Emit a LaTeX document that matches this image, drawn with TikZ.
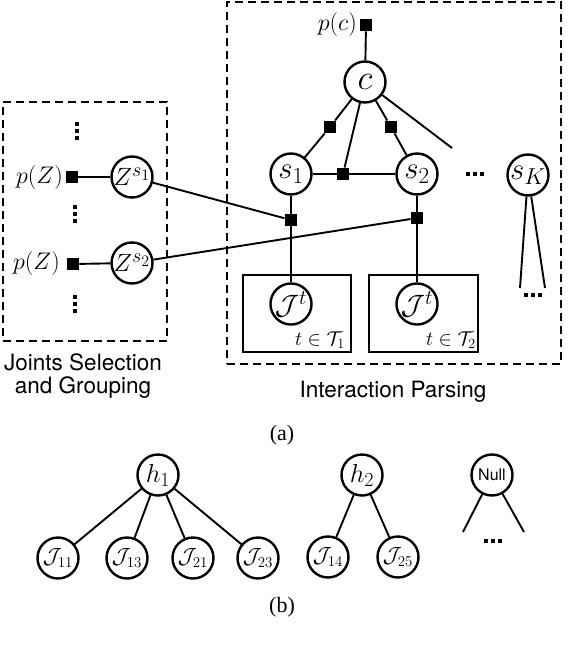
\RequirePackage{fix-cm}
\documentclass[tikz,border=0pt]{standalone}
\usepackage{fontspec}
\newfontfamily\helv{TeX Gyre Heros}
\newfontfamily\tms{Liberation Serif}
\newcommand\fsz[1]{\fontsize{#1}{#1}\selectfont}
\DeclareMathSizes{31}{31}{23}{18}
\DeclareMathSizes{25}{25}{20}{16}
\DeclareMathSizes{26}{26}{20}{15}
\DeclareMathSizes{28}{28}{21}{16}
\DeclareMathSizes{22}{22}{15}{12}
\tikzset{
  var/.style={circle, draw, line width=2.4pt, minimum size=41pt, inner sep=0pt},
  fac/.style={rectangle, fill=black, minimum size=12.5pt, inner sep=0pt},
  edge/.style={line width=1.9pt},
  dashbox/.style={draw, line width=2pt, dash pattern=on 8pt off 5pt, inner sep=0pt},
  plate/.style={draw, line width=2pt, inner sep=0pt},
  lbl/.style={inner sep=0pt, font=\helv\fontsize{22.5}{23}\selectfont, align=center},
  mlbl/.style={inner sep=0pt, font=\fsz{24}},
  pics/vdts/.style={code={
    \fill (-2.3,-9.3) rectangle (2.3,-4.7);
    \fill (-2.3,-2.3) rectangle (2.3,2.3);
    \fill (-2.3,4.7) rectangle (2.3,9.3);}},
  pics/hdts/.style={code={
    \fill (-9.3,-2.3) rectangle (-4.7,2.3);
    \fill (-2.3,-2.3) rectangle (2.3,2.3);
    \fill (4.7,-2.3) rectangle (9.3,2.3);}}
}
\begin{document}
\begin{tikzpicture}[x=1pt,y=-1pt]
\useasboundingbox (0,0) rectangle (588,656);

% frames
\node[dashbox, minimum width=164pt, minimum height=239pt] (L) at (85,221.5) {};
\node[dashbox, minimum width=334pt, minimum height=362pt] (R) at (394,183) {};
\node[plate, minimum width=108pt, minimum height=77pt] (P1) at (297,313.5) {};
\node[plate, minimum width=109pt, minimum height=77pt] (P2) at (423.5,313.5) {};

% interaction parsing
\node[fac] (fc) at (366,25) {};
\node[mlbl, anchor=east] (pc) at (357,24) {$p(c)$};
\node[var, font=\fsz{35}] (c) at (365,82) {$c$};
\node[fac] (f1) at (330,127) {};
\node[fac] (f2) at (391,127) {};
\node[var, font=\fsz{31}] (s1) at (291,174) {$s_1$};
\node[var, font=\fsz{31}] (s2) at (417,174) {$s_2$};
\node[fac] (f3) at (343,174) {};
\node[var, font=\fsz{31}] (sK) at (528,175) {$s_K$};
\pic at (475,174) {hdts};
\coordinate (cR) at (452,148);
\node[fac] (f4) at (291,220) {};
\node[fac] (f5) at (417,218) {};
\node[var, font=\fsz{28}] (J1) at (291,304) {$\mathcal{J}^t$};
\node[var, font=\fsz{28}] (J2) at (417,304) {$\mathcal{J}^t$};
\node[anchor=base east, inner sep=0pt, font=\fsz{20}] (t1) at (345,345) {$t\in\mathcal{T}_1$};
\node[anchor=base east, inner sep=0pt, font=\fsz{20}] (t2) at (476,345) {$t\in\mathcal{T}_2$};
\coordinate (k1) at (520,288);
\coordinate (k2) at (545,288);
\pic at (533,295) {hdts};

% joints selection
\pic at (77,131) {vdts};
\pic at (75,214) {vdts};
\pic at (75,304) {vdts};
\node[fac] (fz1) at (72,177) {};
\node[fac] (fz2) at (73,264) {};
\node[var, font=\fsz{25}] (Z1) at (132,177) {$Z^{s_1}$};
\node[var, font=\fsz{25}] (Z2) at (132,263) {$Z^{s_2}$};
\node[mlbl, anchor=east] (pz1) at (63,177) {$p(Z)$};
\node[mlbl, anchor=east] (pz2) at (60,263) {$p(Z)$};

% labels
\node[lbl] (jl) at (83,376.5) {Joints Selection\\and Grouping};
\node[lbl] (ip) at (393,392) {Interaction Parsing};
\node[inner sep=0pt, font=\tms\fsz{22}] (ca) at (282,435) {(a)};
\node[inner sep=0pt, font=\tms\fsz{22}] (cb) at (282,607) {(b)};

% edges (a)
\draw[edge] (fc) -- (c);
\draw[edge] (c) -- (f1) -- (s1);
\draw[edge] (c) -- (f2) -- (s2);
\draw[edge] (c) -- (f3);
\draw[edge] (s1) -- (f3) -- (s2);
\draw[edge] (c) -- (cR);
\draw[edge] (s1) -- (f4) -- (J1);
\draw[edge] (s2) -- (f5) -- (J2);
\draw[edge] (Z1) -- (f4);
\draw[edge] (Z2) -- (f5);
\draw[edge] (fz1) -- (Z1);
\draw[edge] (fz2) -- (Z2);
\draw[edge] (sK) -- (k1);
\draw[edge] (sK) -- (k2);

% (b)
\node[var, font=\fsz{26}] (h1) at (158,475) {$h_1$};
\node[var, font=\fsz{26}] (h2) at (362,475) {$h_2$};
\node[var, font=\helv\fsz{16}] (nl) at (492,475) {Null};
\node[var, font=\fsz{22}] (j11) at (58,558) {$\mathcal{J}_{11}$};
\node[var, font=\fsz{22}] (j13) at (127,558) {$\mathcal{J}_{13}$};
\node[var, font=\fsz{22}] (j21) at (193,558) {$\mathcal{J}_{21}$};
\node[var, font=\fsz{22}] (j23) at (258,558) {$\mathcal{J}_{23}$};
\node[var, font=\fsz{22}] (j14) at (328,557) {$\mathcal{J}_{14}$};
\node[var, font=\fsz{22}] (j25) at (398,557) {$\mathcal{J}_{25}$};
\coordinate (n1) at (463,532);
\coordinate (n2) at (524,532);
\pic at (493,541) {hdts};
\draw[edge] (h1) -- (j11);
\draw[edge] (h1) -- (j13);
\draw[edge] (h1) -- (j21);
\draw[edge] (h1) -- (j23);
\draw[edge] (h2) -- (j14);
\draw[edge] (h2) -- (j25);
\draw[edge] (nl) -- (n1);
\draw[edge] (nl) -- (n2);
\end{tikzpicture}
\end{document}
